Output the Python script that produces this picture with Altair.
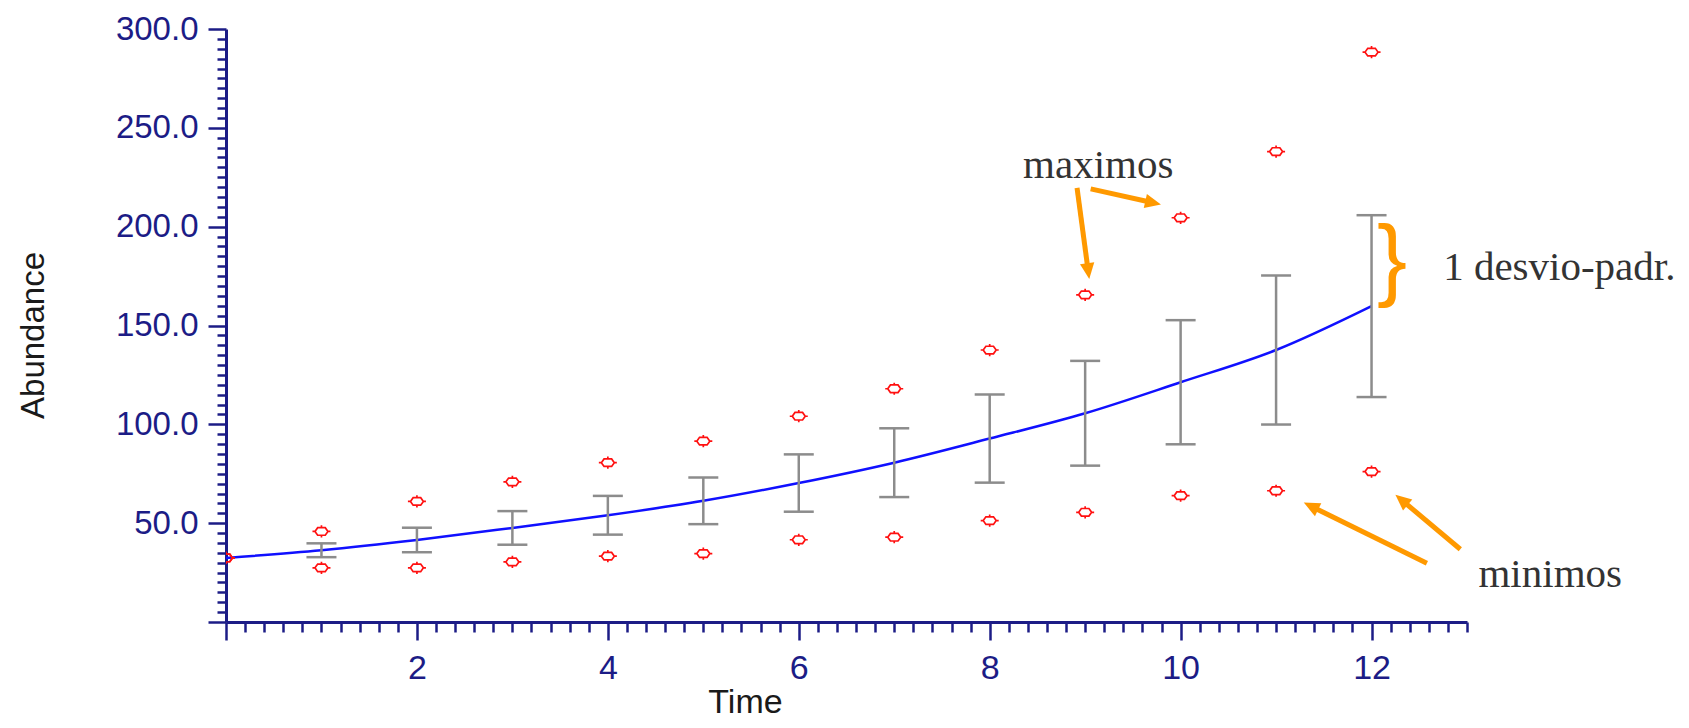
import math
import altair as alt
import pandas as pd

# ---- data ----
time = list(range(13))
mean = [32.4, 36.3, 41.5, 47.6, 54.0, 61.3, 70.3, 80.6, 92.8, 105.6, 121.3, 137.6, 159.8]
sd = [0.0, 3.5, 6.2, 8.5, 9.8, 11.8, 14.5, 17.4, 22.3, 26.5, 31.4, 37.7, 46.0]
max_v = [32.4, 45.8, 61.0, 70.9, 80.6, 91.5, 104.1, 118.0, 137.6, 165.5, 204.5, 238.0, 288.3]
min_v = [32.4, 27.4, 27.4, 30.4, 33.3, 34.6, 41.6, 42.9, 51.3, 55.5, 63.9, 66.4, 76.1]

y_ticks = [i * 5 for i in range(61)]
x_ticks = [round(k / 5, 1) for k in range(66)]

# annotations (in data units)
ann_text = ["maximos", "1 desvio-padr.", "minimos"]
ann_t = [8.35, 12.75, 13.12]
ann_v = [224.6, 172.9, 17.7]

arrow_t0 = [8.915, 9.058, 12.58, 12.93]
arrow_v0 = [219.6, 219.1, 29.7, 36.8]
arrow_t1 = [9.043, 9.794, 11.29, 12.25]
arrow_v1 = [173.5, 211.2, 60.4, 64.4]

brace_t = [12.215]
brace_v = [182.0]

# ---- layout ----
W, H = 1241, 593
XD, YD = [0, 13], [0, 300]
sx, sy = W / (XD[1] - XD[0]), H / (YD[1] - YD[0])

NAVY = "#1c1c86"
GRAY = "#8c8c8c"
RED = "#ff1010"
BLUE = "#1010ff"
ORANGE = "#ff9900"

xs = alt.Scale(domain=XD, nice=False, zero=False)
ys = alt.Scale(domain=YD, nice=False, zero=False)

df = pd.DataFrame({"time": time, "mean": mean, "sd": sd, "max": max_v, "min": min_v})
df["lo"] = df["mean"] - df["sd"]
df["hi"] = df["mean"] + df["sd"]
err = df[df["time"] >= 1]

pts = pd.concat([
    pd.DataFrame({"time": time, "val": max_v}),
    pd.DataFrame({"time": time, "val": min_v}),
])
caps = pd.concat([
    pd.DataFrame({"time": err["time"], "val": err["lo"]}),
    pd.DataFrame({"time": err["time"], "val": err["hi"]}),
])

rows = []
for t0, v0, t1, v1 in zip(arrow_t0, arrow_v0, arrow_t1, arrow_v1):
    dx = (t1 - t0) * sx
    dy = -(v1 - v0) * sy
    ln = math.hypot(dx, dy)
    ux, uy = dx / ln, dy / ln
    ang = math.degrees(math.atan2(dx, -dy)) % 360
    rows.append({"t0": t0, "v0": v0, "t1": t1, "v1": v1,
                 "t1s": t1 - 8 * ux / sx, "v1s": v1 + 8 * uy / sy, "ang": ang})
arrows = pd.DataFrame(rows)
ann = pd.DataFrame({"txt": ann_text, "t": ann_t, "v": ann_v})
brace = pd.DataFrame({"t": brace_t, "v": brace_v, "txt": ["}"]})

x_axis = alt.Axis(
    values=x_ticks, tickCount=len(x_ticks) + 20,
    labelExpr="(datum.value % 2 === 0 && datum.value > 0) ? format(datum.value, 'd') : ''",
    tickSize={"expr": "datum.value % 2 === 0 ? 18 : 10"},
    tickWidth=2.5, tickColor=NAVY, domainColor=NAVY, domainWidth=3,
    labelColor=NAVY, labelFont="Liberation Sans", labelFontSize=34,
    labelPadding=11, labelOverlap=False, labelFlush=False, grid=False,
    title="Time", titleFont="Liberation Sans", titleFontSize=34,
    titleFontWeight="normal", titleColor="#1a1a1a",
    titleX=519, titleY=90, titleAlign="center", titleBaseline="alphabetic",
)
y_axis = alt.Axis(
    values=y_ticks, tickCount=len(y_ticks) + 20,
    labelExpr="(datum.value % 50 === 0 && datum.value > 0) ? format(datum.value, '.1f') : ''",
    tickSize={"expr": "datum.value % 50 === 0 ? 18 : 9"},
    tickWidth=2.5, tickColor=NAVY, domainColor=NAVY, domainWidth=3,
    labelColor=NAVY, labelFont="Liberation Sans", labelFontSize=33,
    labelPadding=10, labelOverlap=False, labelFlush=False, grid=False,
    title="Abundance", titleFont="Liberation Sans", titleFontSize=33,
    titleFontWeight="normal", titleColor="#1a1a1a", titleAngle=270,
    titleX=-183, titleY=306, titleAlign="center", titleBaseline="alphabetic",
)

line = alt.Chart(df).mark_line(color=BLUE, strokeWidth=2.5, interpolate="monotone").encode(
    x=alt.X("time:Q", scale=xs, axis=x_axis),
    y=alt.Y("mean:Q", scale=ys, axis=y_axis),
)

bars = alt.Chart(err).mark_rule(color=GRAY, strokeWidth=2.5).encode(
    x=alt.X("time:Q", scale=xs),
    y=alt.Y("lo:Q", scale=ys),
    y2="hi:Q",
)

cap = alt.Chart(caps).mark_tick(color=GRAY, orient="horizontal", size=30, thickness=2.5, opacity=1).encode(
    x=alt.X("time:Q", scale=xs),
    y=alt.Y("val:Q", scale=ys),
)

MARKER = ("M-0.72,0 L-0.42,-0.42 L0.42,-0.42 L0.72,0 L0.42,0.42 L-0.42,0.42 Z "
          "M-1,0 L-0.72,0 M0.72,0 L1,0 M0,-0.42 L0,-0.68 M0,0.42 L0,0.68")
points = alt.Chart(pts).mark_point(shape=MARKER, size=324, color=RED, filled=False,
                                   strokeWidth=1.7, opacity=1, clip=True).encode(
    x=alt.X("time:Q", scale=xs),
    y=alt.Y("val:Q", scale=ys),
)

shafts = alt.Chart(arrows).mark_rule(color=ORANGE, strokeWidth=5).encode(
    x=alt.X("t0:Q", scale=xs),
    y=alt.Y("v0:Q", scale=ys),
    x2="t1s:Q",
    y2="v1s:Q",
)
heads = alt.Chart(arrows).mark_point(shape="M0,0 L0.45,1 L-0.45,1 Z", size=1024, filled=True,
                                     color=ORANGE, opacity=1, strokeWidth=0).encode(
    x=alt.X("t1:Q", scale=xs),
    y=alt.Y("v1:Q", scale=ys),
    angle=alt.Angle("ang:Q", scale=None),
)

texts = alt.Chart(ann).mark_text(font="Liberation Serif", fontSize=41, color="#333333",
                                 align="left", baseline="alphabetic").encode(
    x=alt.X("t:Q", scale=xs),
    y=alt.Y("v:Q", scale=ys),
    text="txt:N",
)

brace_mark = alt.Chart(brace).mark_text(font="Liberation Sans", fontSize=90, color=ORANGE,
                                        align="center", baseline="middle").encode(
    x=alt.X("t:Q", scale=xs),
    y=alt.Y("v:Q", scale=ys),
    text="txt:N",
)

chart = alt.layer(line, bars, cap, points, shafts, heads, texts, brace_mark).properties(
    width=W, height=H,
    autosize=alt.AutoSizeParams(type="none"),
    padding={"left": 218, "top": 21, "right": 214, "bottom": 98},
).configure_view(strokeWidth=0).configure_axis(grid=False)

chart.save("out.html", embed_options={"renderer": "svg", "actions": False})
